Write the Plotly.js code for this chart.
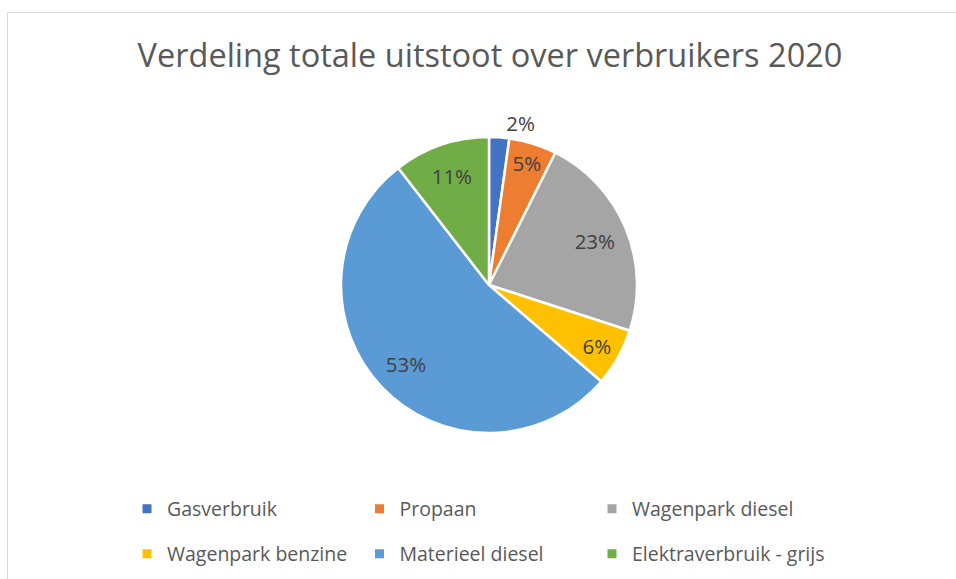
<!DOCTYPE html>
<html>
<head>
<meta charset="utf-8">
<script src="https://cdn.plot.ly/plotly-3.0.1.min.js"></script>
<style>
  html, body { margin: 0; padding: 0; background: #ffffff; }
  #frame { position: absolute; left: 7px; top: 12px; width: 1100px; height: 800px;
           border: 1.5px solid #D9D9D9; box-sizing: border-box; }
  #chart { position: absolute; left: 0; top: 0; width: 956px; height: 579px; }
</style>
</head>
<body>
<div id="frame"></div>
<div id="chart"></div>
<script>
// Data
const categories = ["Gasverbruik", "Propaan", "Wagenpark diesel", "Wagenpark benzine", "Materieel diesel", "Elektraverbruik - grijs"];
const shares = [2.2, 5.2, 22.6, 6.3, 53.2, 10.5];
const sliceColors = ["#4472C4", "#ED7D31", "#A5A5A5", "#FFC000", "#5B9BD5", "#70AD47"];
// where each data label is drawn: on the slice itself, or further out on a label ring
const labelPositions = ["outside", "inside", "inside", "inside", "inside", "inside"];
const labelOnRing = [false, false, true, false, true, true];
const legendRows = ["legend", "legend", "legend", "legend2", "legend2", "legend2"];
const chartTitle = "Verdeling totale uitstoot over verbruikers 2020";

const W = 956, H = 579;
const font = "'Open Sans', sans-serif";
const labelFont = { family: font, size: 20.5, color: "#404040" };
const pct = "%{percent:.0%}";
const pieDomain = { x: [341 / W, 637 / W], y: [1 - 433 / H, 1 - 137 / H] };

const pie = {
  type: "pie",
  labels: categories,
  values: shares,
  sort: false,
  direction: "clockwise",
  rotation: 0,
  marker: { colors: sliceColors, line: { color: "#ffffff", width: 2.5 } },
  texttemplate: labelOnRing.map(r => r ? "" : pct),
  textposition: labelPositions,
  insidetextorientation: "horizontal",
  textfont: labelFont,
  outsidetextfont: labelFont,
  insidetextfont: labelFont,
  hoverinfo: "label+percent",
  domain: pieDomain,
  showlegend: false
};

// Transparent ring over the same slices, used only to place the larger labels further out
const labelRing = {
  type: "pie",
  labels: categories,
  values: shares,
  sort: false,
  direction: "clockwise",
  rotation: 0,
  hole: 0.55,
  marker: { colors: sliceColors.map(() => "rgba(0,0,0,0)"), line: { width: 0 } },
  texttemplate: labelOnRing.map(r => r ? pct : ""),
  textposition: "inside",
  insidetextorientation: "horizontal",
  textfont: labelFont,
  insidetextfont: labelFont,
  hoverinfo: "skip",
  domain: pieDomain,
  showlegend: false
};

// Legend entries (one per category), arranged in two rows of three as in the reference
const legendEntries = categories.map((name, i) => ({
  type: "scatter",
  mode: "markers",
  x: [null], y: [null],
  name: name,
  legend: legendRows[i],
  marker: { symbol: "square", size: 9, color: sliceColors[i] },
  hoverinfo: "skip",
  showlegend: true
}));

const legendCommon = {
  orientation: "h",
  xanchor: "left",
  yanchor: "middle",
  font: { family: font, size: 19.5, color: "#595959" },
  entrywidth: 187.5, entrywidthmode: "pixels",
  traceorder: "normal",
  bgcolor: "rgba(0,0,0,0)"
};

const layout = {
  width: W, height: H,
  margin: { l: 0, r: 0, t: 0, b: 0 },
  paper_bgcolor: "rgba(0,0,0,0)",
  plot_bgcolor: "rgba(0,0,0,0)",
  font: { family: font, color: "#595959" },
  xaxis: { visible: false, fixedrange: true },
  yaxis: { visible: false, fixedrange: true },
  title: {
    text: chartTitle,
    font: { family: font, size: 32.5, color: "#595959" },
    x: 490 / W, xanchor: "center", xref: "paper",
    y: 1 - 56 / H, yanchor: "middle", yref: "container"
  },
  legend: Object.assign({}, legendCommon, { x: 127 / W, y: 1 - 509 / H }),
  legend2: Object.assign({}, legendCommon, { x: 127 / W, y: 1 - 554 / H })
};

Plotly.newPlot("chart", [pie, labelRing].concat(legendEntries), layout, { displayModeBar: false, staticPlot: true });
</script>
</body>
</html>
